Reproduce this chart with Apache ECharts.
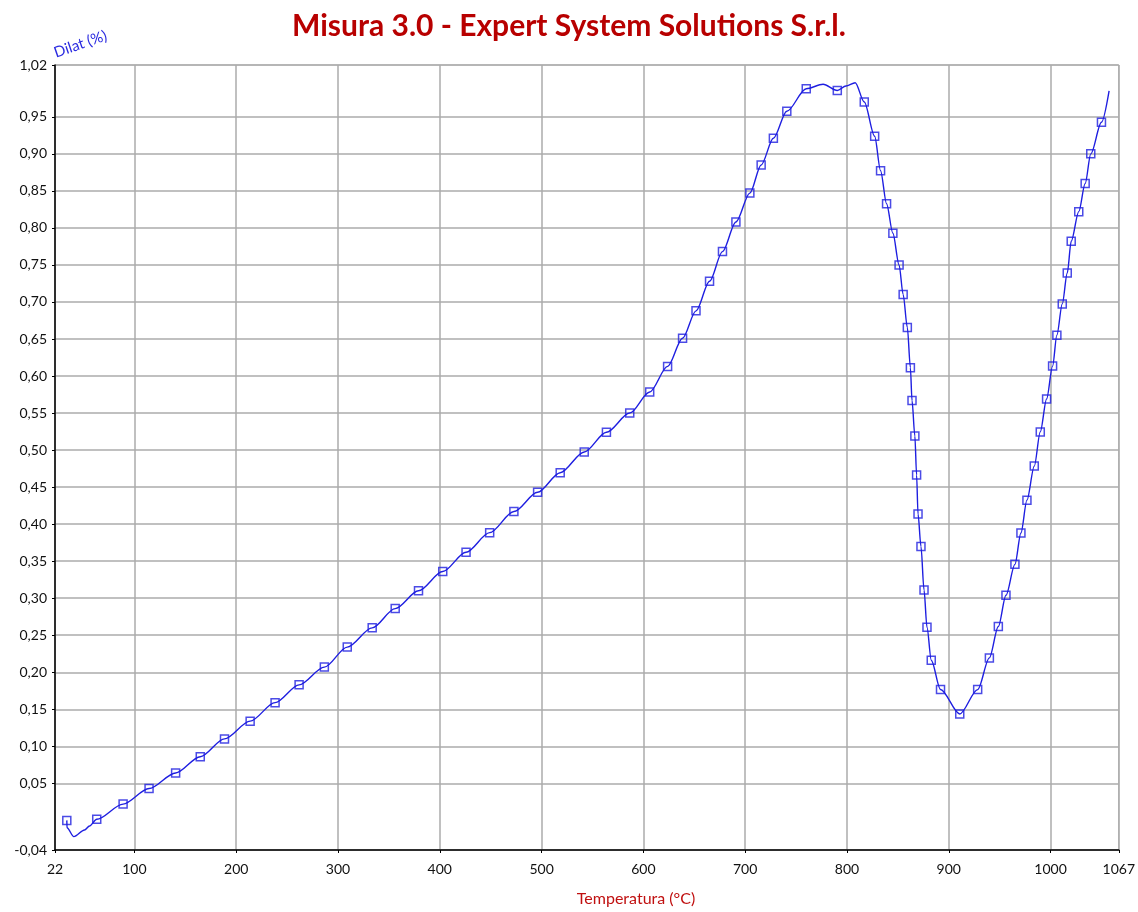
<!DOCTYPE html>
<html>
<head>
<meta charset="utf-8">
<script src="https://cdn.jsdelivr.net/npm/echarts@6/dist/echarts.min.js"></script>
<style>
  html, body { margin: 0; padding: 0; background: #fff; }
  #main { width: 1138px; height: 912px; }
</style>
</head>
<body>
<div id="main"></div>
<script>
// marker points (temperature °C, dilatation %)
const markerT = [33.6, 63.0, 88.9, 114.4, 140.5, 164.7, 188.5, 213.7, 238.2, 261.8,
  286.6, 309.1, 333.6, 356.2, 379.1, 402.9, 425.8, 449.0, 472.8, 496.1,
  518.3, 541.9, 563.7, 586.6, 606.2, 623.8, 638.5, 651.7, 665.0, 677.7,
  690.9, 704.6, 715.7, 727.7, 740.9, 760.0, 790.5, 817.0, 827.2, 833.0,
  838.9, 845.1, 851.2, 855.2, 859.3, 862.3, 863.9, 866.7, 868.4, 869.8,
  872.7, 875.7, 878.6, 882.8, 891.9, 910.8, 928.4, 939.9, 948.7, 956.2,
  965.0, 970.9, 976.8, 984.0, 989.9, 996.1, 1002.0, 1006.2, 1011.5, 1016.4,
  1020.3, 1027.7, 1034.0, 1039.5, 1050.0];
const markerV = [0.000, 0.0015, 0.022, 0.043, 0.064, 0.086, 0.110, 0.134, 0.159, 0.183,
  0.207, 0.234, 0.260, 0.286, 0.310, 0.336, 0.362, 0.3885, 0.417, 0.443,
  0.4695, 0.4975, 0.524, 0.550, 0.5785, 0.613, 0.651, 0.688, 0.728, 0.768,
  0.808, 0.847, 0.885, 0.921, 0.9575, 0.988, 0.9856, 0.970, 0.9237, 0.8773,
  0.8327, 0.7928, 0.750, 0.710, 0.6656, 0.6113, 0.5669, 0.519, 0.4664, 0.4137,
  0.3699, 0.311, 0.2608, 0.2163, 0.1768, 0.1437, 0.1766, 0.2194, 0.2617, 0.304,
  0.3457, 0.388, 0.4324, 0.4784, 0.5246, 0.569, 0.6134, 0.6552, 0.6974, 0.7391,
  0.782, 0.822, 0.8599, 0.900, 0.9426];

// extra points where the trace bends between markers
const bendT = [33.8, 40.5, 51.0, 55.9, 776.5, 799.0, 808.1, 1057.5];
const bendV = [-0.010, -0.022, -0.013, -0.0076, 0.994, 0.9916, 0.996, 0.985];

const xTicks = [22, 100, 200, 300, 400, 500, 600, 700, 800, 900, 1000, 1067];
const yTicks = [-0.04, 0.05, 0.10, 0.15, 0.20, 0.25, 0.30, 0.35, 0.40, 0.45, 0.50,
  0.55, 0.60, 0.65, 0.70, 0.75, 0.80, 0.85, 0.90, 0.95, 1.02];

const markers = markerT.map((t, i) => [t, markerV[i]]);
const curve = markers.concat(bendT.map((t, i) => [t, bendV[i]]))
  .sort((a, b) => a[0] - b[0]);

const blue = '#1e1ee0';
const chart = echarts.init(document.getElementById('main'));
chart.setOption({
  animation: false,
  backgroundColor: '#fff',
  title: {
    text: 'Misura 3.0 - Expert System Solutions S.r.l.',
    left: 'center',
    top: 6,
    textStyle: { color: '#b80000', fontSize: 30, fontWeight: 'bold', fontFamily: 'Lato' }
  },
  graphic: [
    {
      type: 'text', x: 52, y: 46, rotation: 0.33,
      style: { text: 'Dilat (%)', fill: '#2a2ae0', font: '15px Lato' }
    },
    {
      type: 'text', x: 636, y: 899,
      style: { text: 'Temperatura (°C)', fill: '#c01010', font: '16px Lato',
        textAlign: 'center', textVerticalAlign: 'middle' }
    }
  ],
  grid: {
    left: 55, right: 16, top: 65, bottom: 62,
    show: true, borderColor: '#ababab', borderWidth: 1
  },
  xAxis: {
    type: 'value', min: 22, max: 1067,
    axisLine: { show: true, onZero: false, lineStyle: { color: '#000', width: 1.5 } },
    axisTick: { show: true, length: 3, customValues: xTicks, lineStyle: { color: '#000' } },
    axisLabel: {
      customValues: xTicks, color: '#111', fontSize: 14, fontFamily: 'Lato', margin: 12,
      formatter: v => String(Math.round(v))
    },
    splitLine: { show: true, lineStyle: { color: '#ababab', width: 1.5 } }
  },
  yAxis: {
    type: 'value', min: -0.04, max: 1.02,
    axisLine: { show: true, onZero: false, lineStyle: { color: '#000', width: 1.5 } },
    axisTick: { show: true, length: 3, customValues: yTicks, lineStyle: { color: '#000' } },
    axisLabel: {
      customValues: yTicks, color: '#111', fontSize: 14, fontFamily: 'Lato', margin: 8,
      formatter: v => v.toFixed(2).replace('.', ',')
    },
    splitLine: { show: true, lineStyle: { color: '#ababab', width: 1.5 } }
  },
  series: [
    {
      type: 'line',
      data: curve,
      smooth: 0.3,
      smoothMonotone: 'x',
      symbol: 'none',
      lineStyle: { color: blue, width: 1.4 },
      z: 2
    },
    {
      type: 'scatter',
      data: markers,
      symbol: 'rect',
      symbolSize: 8,
      itemStyle: { color: 'rgba(255,255,255,0)', borderColor: blue, borderWidth: 1.5 },
      z: 3
    }
  ]
});
</script>
</body>
</html>
